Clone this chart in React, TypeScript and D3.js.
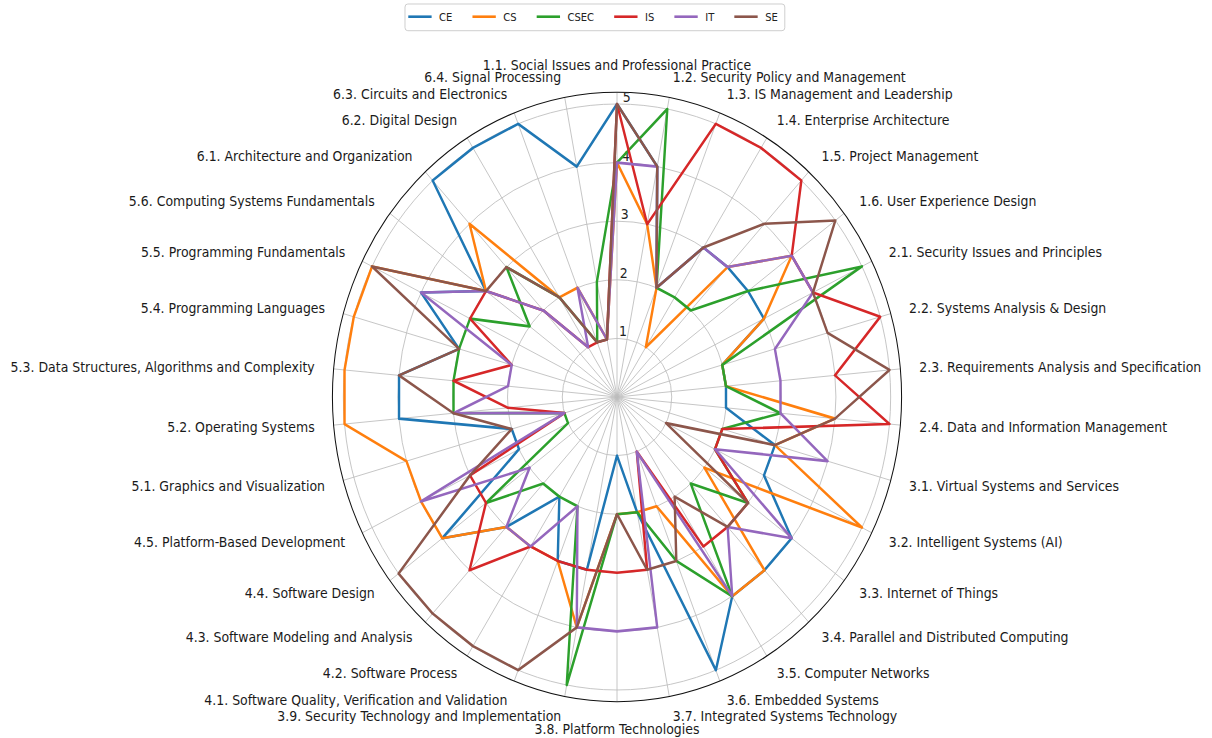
import React, { useEffect, useRef } from "react";
import * as d3 from "d3";

// knowledge areas, clockwise from the top
const categories = [
  "1.1. Social Issues and Professional Practice",
  "1.2. Security Policy and Management",
  "1.3. IS Management and Leadership",
  "1.4. Enterprise Architecture",
  "1.5. Project Management",
  "1.6. User Experience Design",
  "2.1. Security Issues and Principles",
  "2.2. Systems Analysis & Design",
  "2.3. Requirements Analysis and Specification",
  "2.4. Data and Information Management",
  "3.1. Virtual Systems and Services",
  "3.2. Intelligent Systems (AI)",
  "3.3. Internet of Things",
  "3.4. Parallel and Distributed Computing",
  "3.5. Computer Networks",
  "3.6. Embedded Systems",
  "3.7. Integrated Systems Technology",
  "3.8. Platform Technologies",
  "3.9. Security Technology and Implementation",
  "4.1. Software Quality, Verification and Validation",
  "4.2. Software Process",
  "4.3. Software Modeling and Analysis",
  "4.4. Software Design",
  "4.5. Platform-Based Development",
  "5.1. Graphics and Visualization",
  "5.2. Operating Systems",
  "5.3. Data Structures, Algorithms and Complexity",
  "5.4. Programming Languages",
  "5.5. Programming Fundamentals",
  "5.6. Computing Systems Fundamentals",
  "6.1. Architecture and Organization",
  "6.2. Digital Design",
  "6.3. Circuits and Electronics",
  "6.4. Signal Processing",
];

const ceValues = [5, 4, 2, 3, 3, 3, 3, 2, 2, 2, 3, 3, 4, 4, 4, 5, 2, 1, 3, 3, 2, 3, 4, 2, 2, 4, 4, 3, 4, 3, 5, 5, 5, 4];
const csValues = [4, 3, 2, 1, 3, 4, 3, 2, 2, 4, 3, 5, 2, 4, 4, 2, 2, 2, 4, 3, 3, 3, 4, 4, 4, 5, 5, 5, 5, 3, 4, 2, 2, 1];
const csecValues = [4, 5, 2, 2, 2, 3, 5, 2, 2, 3, 2, 2, 3, 2, 4, 3, 2, 2, 5, 2, 2, 2, 3, 1, 1, 3, 3, 3, 3, 2, 3, 2, 1, 2];
const isValues = [5, 3, 5, 5, 5, 4, 4, 5, 4, 5, 2, 2, 3, 3, 3, 1, 3, 3, 3, 3, 3, 4, 3, 3, 1, 2, 3, 2, 3, 3, 2, 1, 1, 1];
const itValues = [4, 4, 2, 3, 3, 4, 4, 3, 3, 3, 4, 2, 4, 3, 4, 1, 4, 4, 4, 2, 3, 3, 2, 4, 1, 3, 2, 2, 4, 3, 2, 1, 2, 1];
const seValues = [5, 4, 2, 3, 4, 5, 4, 4, 5, 4, 3, 1, 3, 3, 2, 3, 3, 2, 4, 5, 5, 5, 5, 3, 2, 3, 4, 3, 5, 3, 3, 2, 1, 1];

const seriesNames = ["CE", "CS", "CSEC", "IS", "IT", "SE"];
const seriesValues = [ceValues, csValues, csecValues, isValues, itValues, seValues];
const colors = ["#1f77b4", "#ff7f0e", "#2ca02c", "#d62728", "#9467bd", "#8c564b"];
const rTicks = [1, 2, 3, 4, 5];

const W = 1212;
const H = 738;
const cx = 617;
const cy = 397;
const squeeze = 0.934; // the picture is a bit narrower than tall
const rMax = 5.2;
const outerR = 304.7;
const labelR = 325;
const font = "DejaVu Sans";

export default function App() {
  const legendRef = useRef<SVGGElement>(null);

  const r = d3.scaleLinear().domain([0, rMax]).range([0, outerR]);
  const angle = d3
    .scaleLinear()
    .domain([0, categories.length])
    .range([0, 2 * Math.PI]);

  const radarLine = d3
    .lineRadial<number>()
    .angle((d, i) => angle(i))
    .radius((d) => r(d))
    .curve(d3.curveLinearClosed);

  useEffect(() => {
    // legend, laid out from measured text widths
    const g = d3.select(legendRef.current);
    g.selectAll("*").remove();
    const box = g
      .append("rect")
      .attr("y", 0)
      .attr("height", 26.7)
      .attr("rx", 3)
      .attr("fill", "white")
      .attr("stroke", "#cccccc")
      .attr("stroke-width", 1);
    let x = 3.5;
    seriesNames.forEach((name, i) => {
      g.append("line")
        .attr("x1", x)
        .attr("x2", x + 25)
        .attr("y1", 12.7)
        .attr("y2", 12.7)
        .attr("stroke", colors[i])
        .attr("stroke-width", 2.6);
      const t = g
        .append("text")
        .attr("x", x + 33)
        .attr("y", 12.7)
        .attr("dominant-baseline", "central")
        .style("font-family", font)
        .style("font-size", "10.7px")
        .style("fill", "#222")
        .text(name);
      const w = (t.node() as SVGTextElement).getComputedTextLength();
      x += 33 + w + (i < seriesNames.length - 1 ? 21.5 : 7.5);
    });
    box.attr("x", 0).attr("width", x);
  }, []);

  return (
    <div style={{ position: "absolute", left: 0, top: 0 }}>
      <svg width={W} height={H} style={{ display: "block", background: "white" }}>
        <g transform={`translate(${cx},${cy}) scale(${squeeze},1)`}>
          {/* spokes */}
          {categories.map((c, i) => (
            <line
              key={"s" + i}
              x1={0}
              y1={0}
              x2={outerR * Math.sin(angle(i))}
              y2={-outerR * Math.cos(angle(i))}
              stroke="#bdbdbd"
              strokeWidth={0.9}
            />
          ))}
          {/* rings */}
          {rTicks.map((t) => (
            <circle key={"c" + t} r={r(t)} fill="none" stroke="#bdbdbd" strokeWidth={0.9} />
          ))}
          <circle r={outerR} fill="none" stroke="#111" strokeWidth={1.1} />

          {/* ring labels */}
          {rTicks.map((t) => (
            <text
              key={"t" + t}
              x={r(t) * Math.sin(Math.PI / 180) + 1}
              y={-r(t) - 2}
              style={{ fontFamily: font, fontSize: "13.4px", fill: "#222" }}
            >
              {t}
            </text>
          ))}

          {/* series */}
          {seriesValues.map((vals, k) => (
            <path
              key={seriesNames[k]}
              d={radarLine(vals) || ""}
              fill="none"
              stroke={colors[k]}
              strokeWidth={2.6}
              strokeLinejoin="round"
            />
          ))}

          {/* category labels */}
          {categories.map((c, i) => {
            const a = angle(i);
            const deg = (a * 180) / Math.PI;
            const top = Math.abs(deg) < 0.01;
            const bottom = Math.abs(deg - 180) < 0.01;
            const anchor = top || bottom ? "middle" : deg < 180 ? "start" : "end";
            const extra = top || bottom ? 7 : 0;
            const rr = labelR + extra;
            return (
              <text
                key={"l" + i}
                x={labelR * Math.sin(a)}
                y={-rr * Math.cos(a)}
                textAnchor={anchor}
                dominantBaseline="central"
                style={{ fontFamily: font, fontSize: "13.4px", fill: "#1a1a1a" }}
              >
                {c}
              </text>
            );
          })}
        </g>

        <g ref={legendRef} transform={`translate(405,4) scale(${squeeze},1)`} />
      </svg>
    </div>
  );
}
